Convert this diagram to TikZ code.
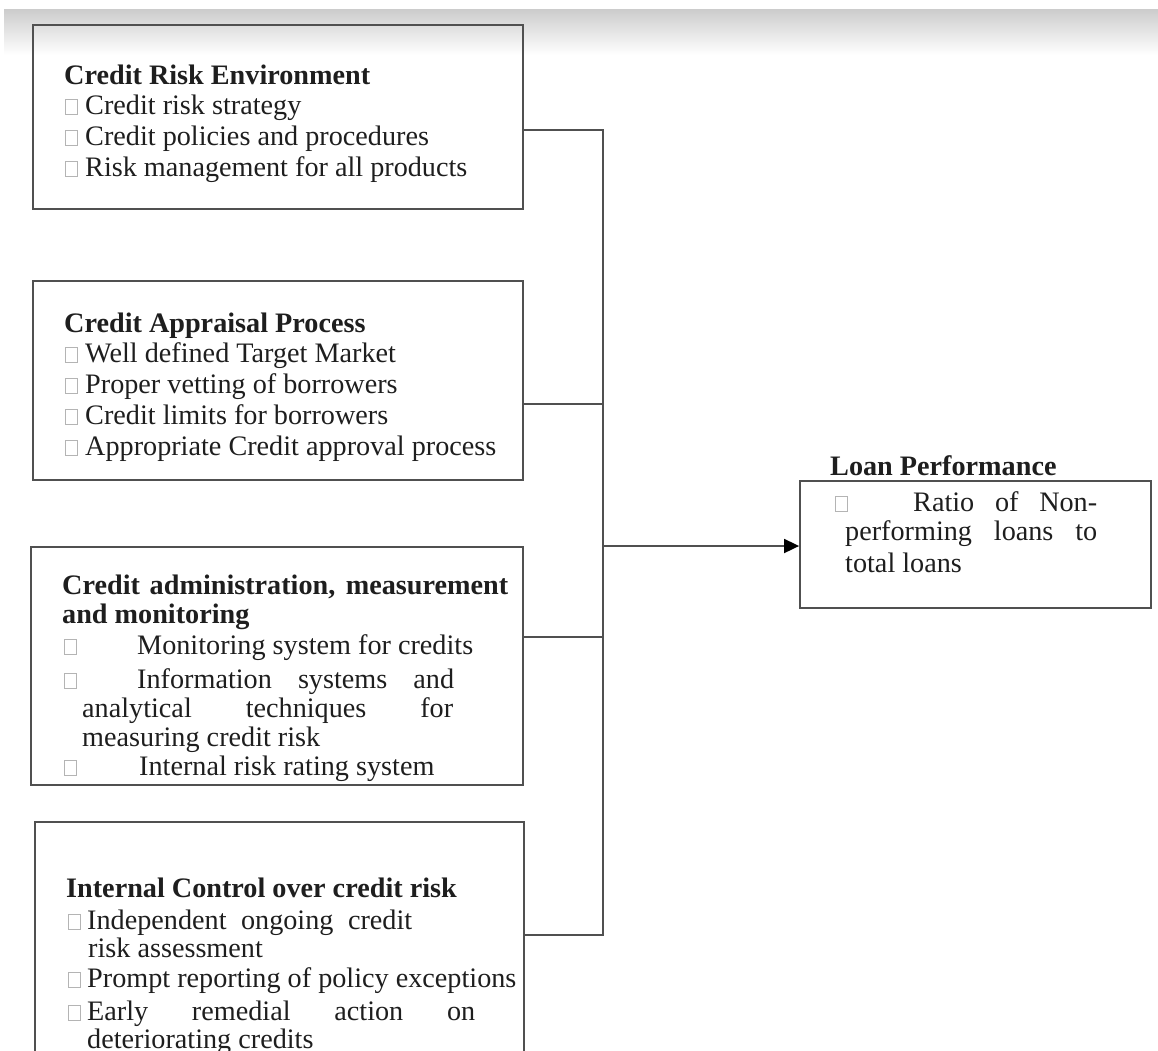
\documentclass[tikz,border=0pt]{standalone}
\usepackage{fontspec}
\setmainfont{Liberation Serif}
\usetikzlibrary{arrows.meta}
\definecolor{linec}{HTML}{505050}
\definecolor{txtc}{HTML}{1E1E1E}
\definecolor{sqc}{HTML}{B4B4B4}
\newcommand\sqmark{{\color{sqc}\setlength\fboxsep{0pt}\setlength\fboxrule{1pt}\fbox{\rule{0pt}{14pt}\hspace{11pt}}}}
\newcommand\sqw[1]{\makebox[#1pt][l]{\sqmark}}
\newcommand\jst[2]{\makebox[#1pt][s]{#2}}
\begin{document}
\begin{tikzpicture}[x=1pt,y=-1pt,
  frame/.style={draw=linec, line width=1.8pt, inner sep=0pt},
  ln/.style={anchor=base west, inner sep=0pt, text=txtc, font=\fontsize{28.2}{31}\selectfont},
  hd/.style={ln, font=\fontsize{28.2}{31}\selectfont\bfseries},
  conn/.style={draw=linec, line width=1.8pt}]
\useasboundingbox (0,0) rectangle (1158,1050);
\clip (0,0) rectangle (1158,1050);
\shade[top color=black!20, bottom color=white] (4,9) rectangle (1158,55);

% boxes
\node[frame, minimum width=490pt, minimum height=184pt] (b1) at (278,117) {};
\node[frame, minimum width=490pt, minimum height=199pt] (b2) at (278,380.5) {};
\node[frame, minimum width=492pt, minimum height=238pt] (b3) at (277,666) {};
\node[frame, minimum width=489pt, minimum height=248pt] (b4) at (279.5,946) {};
\node[frame, minimum width=351pt, minimum height=127pt] (b5) at (975.5,544.5) {};

% box 1
\node[hd] (t11) at (64,84) {Credit Risk Environment};
\node[ln] (t12) at (65,114) {\sqw{20}Credit risk strategy};
\node[ln] (t13) at (65,145) {\sqw{20}Credit policies and procedures};
\node[ln] (t14) at (65,176) {\sqw{20}Risk management for all products};

% box 2
\node[hd] (t21) at (64,332) {Credit Appraisal Process};
\node[ln] (t22) at (65,362) {\sqw{20}Well defined Target Market};
\node[ln] (t23) at (65,393) {\sqw{20}Proper vetting of borrowers};
\node[ln] (t24) at (65,424) {\sqw{20}Credit limits for borrowers};
\node[ln] (t25) at (65,455) {\sqw{20}Appropriate Credit approval process};

% box 3
\node[hd] (t31) at (62,594) {\jst{446}{Credit administration, measurement}};
\node[hd] (t32) at (62,623) {and monitoring};
\node[ln] (t33) at (64,654) {\sqw{73}Monitoring system for credits};
\node[ln] (t34) at (64,688) {\sqw{73}\jst{317}{Information systems and}};
\node[ln] (t35) at (82,717) {\jst{371}{analytical techniques for}};
\node[ln] (t36) at (82,746) {measuring credit risk};
\node[ln] (t37) at (64,775) {\sqw{75}Internal risk rating system};

% box 4
\node[hd] (t41) at (66,897) {Internal Control over credit risk};
\node[ln] (t42) at (68,929) {\sqw{19}\jst{325}{Independent\ \ ongoing\ \ credit}};
\node[ln] (t43) at (88,957) {risk assessment};
\node[ln] (t44) at (68,987) {\sqw{19}Prompt reporting of policy exceptions};
\node[ln] (t45) at (68,1020) {\sqw{19}\jst{388}{Early remedial action on}};
\node[ln] (t46) at (87,1048) {deteriorating credits};

% box 5
\node[hd] (t51) at (830,475) {Loan Performance};
\node[ln] (t52) at (835,511) {\sqw{78}\jst{184}{Ratio of Non-}};
\node[ln] (t53) at (845,540) {\jst{252}{performing loans to}};
\node[ln] (t54) at (845,572) {total loans};

% connectors
\coordinate (j1) at (603,130);
\coordinate (j2) at (603,404);
\coordinate (j3) at (603,637);
\coordinate (j4) at (603,935);
\coordinate (ja) at (603,546);
\draw[conn] (b1.east |- j1) -- (j1) -- (j4) -- (b4.east |- j4);
\draw[conn] (b2.east |- j2) -- (j2);
\draw[conn] (b3.east |- j3) -- (j3);
\draw[conn, -{Triangle[length=15pt,width=14pt,color=black]}] (ja) -- (b5.west |- ja);
\end{tikzpicture}
\end{document}
